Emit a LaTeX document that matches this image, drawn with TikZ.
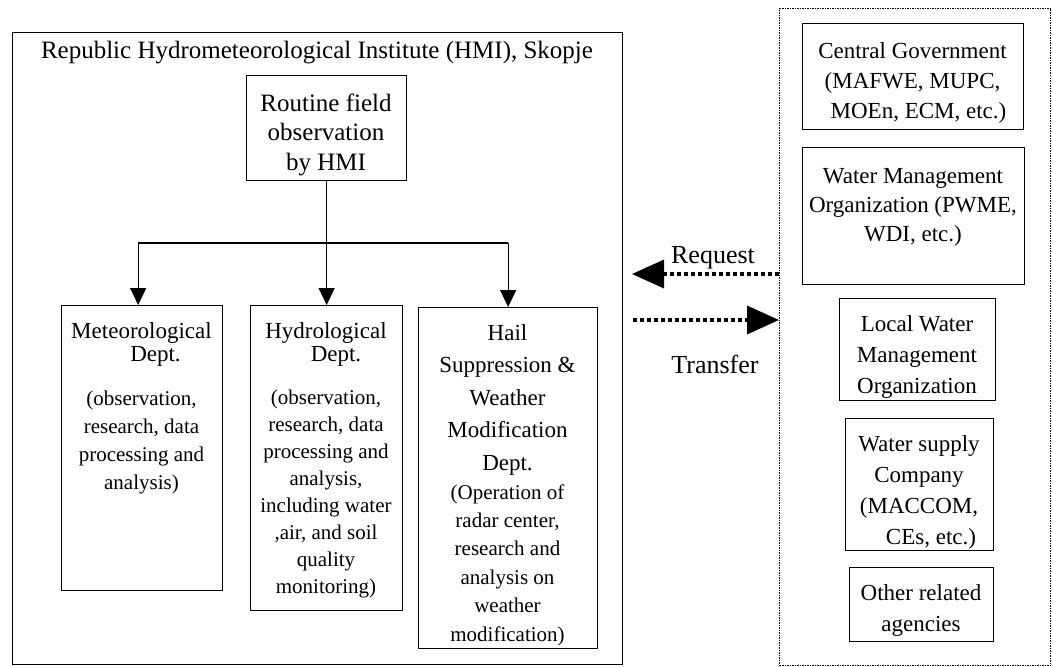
\documentclass[tikz,border=0pt]{standalone}
\usepackage{fontspec}
\setmainfont{Liberation Serif}
\usetikzlibrary{arrows.meta}
\newcommand\myfs[2]{\fontsize{#1}{#2}\selectfont}
\begin{document}
\begin{tikzpicture}[x=1pt,y=-1pt,
  box/.style={draw, line width=1.3pt, inner sep=0pt, anchor=north west},
  dotbox/.style={draw, line width=1pt, dash pattern=on 1.5pt off 1pt, inner sep=0pt, anchor=north west},
  txt/.style={align=center, inner sep=0pt, anchor=base},
  conn/.style={line width=1.2pt, -{Triangle[length=17pt,width=16pt]}},
  plain/.style={line width=1.2pt},
  dotarrow/.style={line width=3.5pt, dash pattern=on 4pt off 3pt, -{Triangle[length=32pt,width=28pt]}},
]
\useasboundingbox (0,0) rectangle (1053,667);

% left institute box (text nodes are placed by the baseline of their last line)
\node[box, minimum width=610pt, minimum height=632pt] (hmi) at (12,32) {};
\node[txt, font=\myfs{25}{30}] (title) at (317,58) {Republic Hydrometeorological Institute (HMI), Skopje};

\node[box, minimum width=160pt, minimum height=105pt] (routine) at (246,75) {};
\node[txt, font=\myfs{25}{29.5}] (routineT) at (326,170) {Routine field\\observation\\by HMI};

\node[box, minimum width=161pt, minimum height=285pt] (met) at (61,305) {};
\node[txt, font=\myfs{23}{23}] (metT) at (141.5,361) {Meteorological\\\hspace*{28pt}Dept.};
\node[txt, font=\myfs{21}{28}] (metS) at (141.5,489) {(observation,\\research, data\\processing and\\analysis)};

\node[box, minimum width=152pt, minimum height=305pt] (hydro) at (250,305) {};
\node[txt, font=\myfs{23}{23}] (hydroT) at (326,361) {Hydrological\\\hspace*{20pt}Dept.};
\node[txt, font=\myfs{21}{26.9}] (hydroS) at (326,593) {(observation,\\research, data\\processing and\\analysis,\\including water\\,air, and soil\\quality\\monitoring)};

\node[box, minimum width=179pt, minimum height=341pt] (hail) at (418,307) {};
\node[txt, font=\myfs{23}{32.5}] (hailT) at (507.5,470) {Hail\\Suppression \&\\Weather\\Modification\\Dept.};
\node[txt, font=\myfs{21}{28.4}] (hailS) at (507.5,641) {(Operation of\\radar center,\\research and\\analysis on\\weather\\modification)};

% connectors inside institute
\coordinate (bar) at (326,243);
\coordinate (metIn) at ([xshift=-4pt]met.north);
\draw[plain] (bar -| metIn) -- (bar -| hail.north);
\draw[conn] (routine.south) -- (hydro.north);
\draw[conn] (bar -| metIn) -- (metIn);
\draw[conn] (bar -| hail.north) -- (hail.north);

% external organisations
\node[dotbox, minimum width=271pt, minimum height=657pt] (ext) at (779,8) {};

\node[box, minimum width=221pt, minimum height=106pt] (cg) at (802,23) {};
\node[txt, font=\myfs{23}{30}] (cgT) at (912.5,118) {Central Government\\(MAFWE, MUPC,\\\hspace*{12pt}MOEn, ECM, etc.)};

\node[box, minimum width=222pt, minimum height=137pt] (wmo) at (802,147) {};
\node[txt, font=\myfs{23}{29}] (wmoT) at (913,241) {Water Management\\Organization (PWME,\\WDI, etc.)};

\node[box, minimum width=156pt, minimum height=102pt] (lwm) at (839,298) {};
\node[txt, font=\myfs{23}{31}] (lwmT) at (917,393) {Local Water\\Management\\Organization};

\node[box, minimum width=148pt, minimum height=132pt] (wsc) at (845,418) {};
\node[txt, font=\myfs{23}{31}] (wscT) at (919,544) {Water supply\\Company\\(MACCOM,\\\hspace*{24pt}CEs, etc.)};

\node[box, minimum width=144pt, minimum height=74pt] (oth) at (849,567) {};
\node[txt, font=\myfs{23}{31}] (othT) at (921,631) {Other related\\agencies};

% request / transfer
\coordinate (reqS) at (779,274);
\coordinate (reqE) at (632,274);
\coordinate (trS) at (633,320);
\coordinate (trE) at (779,320);
\draw[dotarrow] (reqS) -- (reqE);
\draw[dotarrow] (trS) -- (trE);
\node[txt, font=\myfs{26}{30}] (reqL) at (713,263) {Request};
\node[txt, font=\myfs{26}{30}] (trL) at (715,373) {Transfer};
\end{tikzpicture}
\end{document}
